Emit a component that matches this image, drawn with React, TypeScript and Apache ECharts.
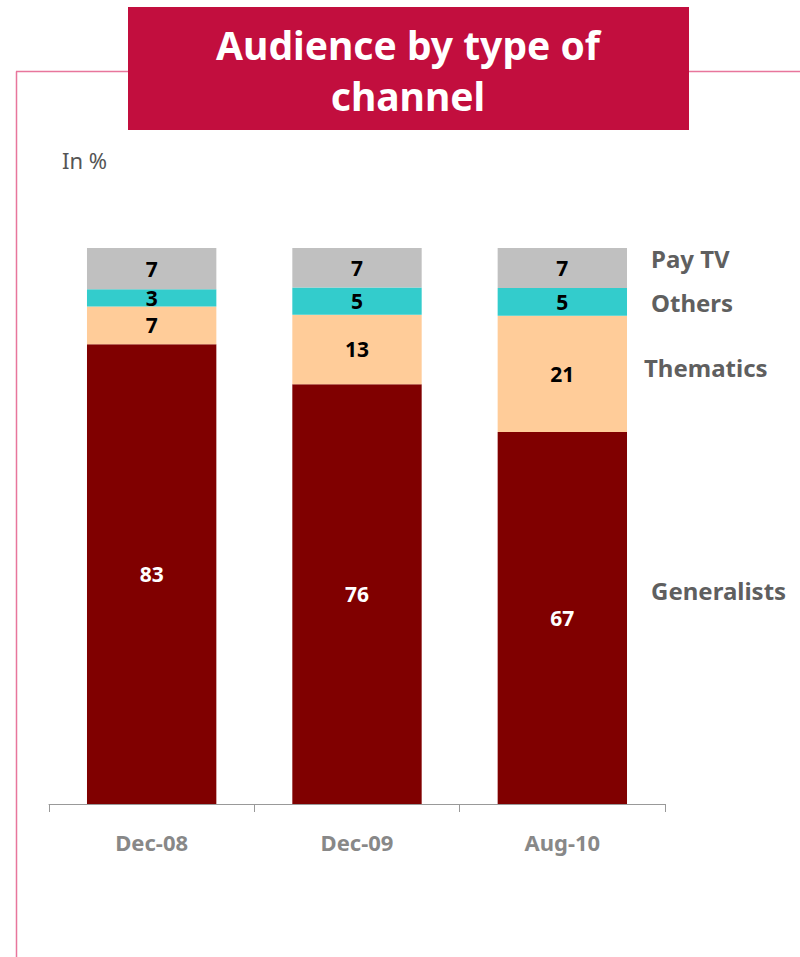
import React, { useEffect, useRef } from "react";
import * as echarts from "echarts";

const categories = ["Dec-08", "Dec-09", "Aug-10"];
const generalists = [82.7, 75.5, 66.9];
const thematics = [6.8, 12.5, 20.9];
const others = [3.1, 4.9, 5.0];
const payTV = [7.4, 7.1, 7.2];
const seriesNames = ["Generalists", "Thematics", "Others", "Pay TV"];
const titleLines = ["Audience by type of", "channel"];

const FONT = "'Noto Sans', 'DejaVu Sans', sans-serif";

export default function App() {
  const ref = useRef<HTMLDivElement>(null);
  useEffect(() => {
    document.body.style.margin = "0";
    const chart = echarts.init(ref.current!, undefined, { renderer: "svg" });
    const mk = (name: string, data: number[], color: string, labelColor: string) => ({
      name,
      type: "bar",
      stack: "total",
      data,
      barWidth: "63%",
      itemStyle: { color },
      label: {
        show: true,
        position: "inside",
        color: labelColor,
        fontFamily: FONT,
        fontWeight: "bold",
        fontSize: 21,
        formatter: (p: any) => String(Math.round(p.value)),
      },
    });
    chart.setOption({
      animation: false,
      backgroundColor: "#ffffff",
      grid: { left: 49, right: 135, top: 248, bottom: 153 },
      xAxis: {
        type: "category",
        data: categories,
        axisLine: { lineStyle: { color: "#999999" } },
        axisTick: { show: true, length: 8, lineStyle: { color: "#999999" } },
        axisLabel: {
          color: "#888888",
          fontFamily: FONT,
          fontWeight: "bold",
          fontSize: 22,
          margin: 27,
        },
      },
      yAxis: { type: "value", min: 0, max: 100, show: false },
      series: [
        mk(seriesNames[0], generalists, "#800000", "#ffffff"),
        mk(seriesNames[1], thematics, "#ffcc99", "#000000"),
        mk(seriesNames[2], others, "#33cccc", "#000000"),
        mk(seriesNames[3], payTV, "#c0c0c0", "#000000"),
      ],
      graphic: [
        { type: "line", shape: { x1: 16.5, y1: 71.5, x2: 16.5, y2: 957 }, style: { stroke: "#e8769c", lineWidth: 1.5 } },
        { type: "line", shape: { x1: 16, y1: 71.5, x2: 128, y2: 71.5 }, style: { stroke: "#e8769c", lineWidth: 1.5 } },
        { type: "line", shape: { x1: 689, y1: 71.5, x2: 800, y2: 71.5 }, style: { stroke: "#e8769c", lineWidth: 1.5 } },
        { type: "rect", shape: { x: 128, y: 7, width: 561, height: 123 }, style: { fill: "#c20e3e" } },
        { type: "text", x: 408, y: 44, style: { text: titleLines[0], fill: "#ffffff", font: `bold 39px ${FONT}`, lineHeight: 42, align: "center", verticalAlign: "middle" } },
        { type: "text", x: 408, y: 95, style: { text: titleLines[1], fill: "#ffffff", font: `bold 39px ${FONT}`, lineHeight: 42, align: "center", verticalAlign: "middle" } },
        { type: "text", x: 62, y: 160, style: { text: "In %", fill: "#555555", font: `22px ${FONT}`, verticalAlign: "middle" } },
        { type: "text", x: 651, y: 258, style: { text: "Pay TV", fill: "#5f5f5f", font: `bold 24px ${FONT}`, verticalAlign: "middle" } },
        { type: "text", x: 651, y: 302, style: { text: "Others", fill: "#5f5f5f", font: `bold 24px ${FONT}`, verticalAlign: "middle" } },
        { type: "text", x: 644, y: 367, style: { text: "Thematics", fill: "#5f5f5f", font: `bold 24px ${FONT}`, verticalAlign: "middle" } },
        { type: "text", x: 651, y: 590, style: { text: "Generalists", fill: "#5f5f5f", font: `bold 24px ${FONT}`, verticalAlign: "middle" } },
      ],
    });
    return () => chart.dispose();
  }, []);
  return <div ref={ref} style={{ position: "absolute", left: 0, top: 0, width: 800, height: 957 }} />;
}
